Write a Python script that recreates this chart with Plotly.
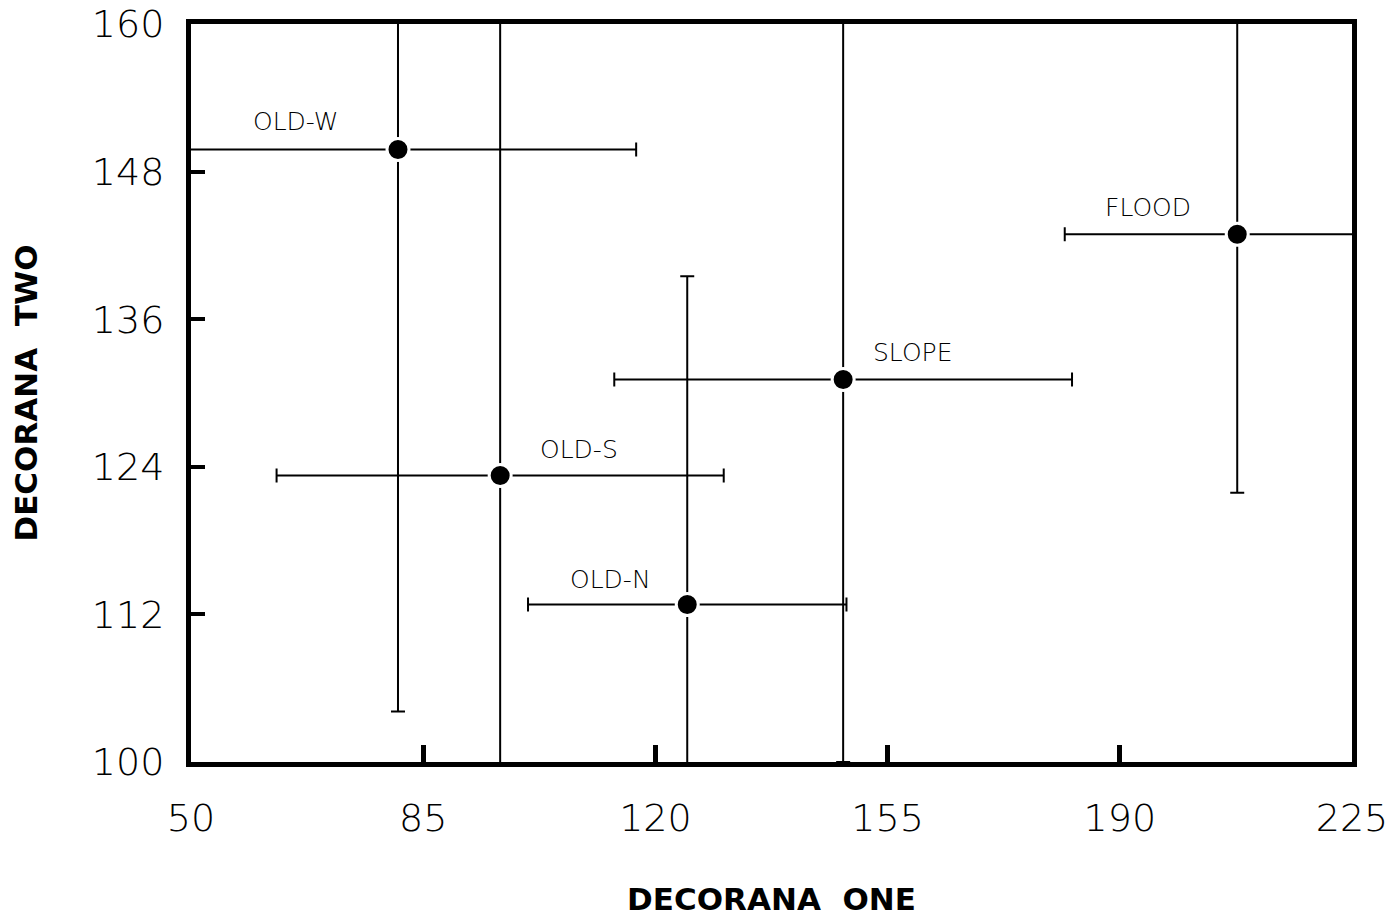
import plotly.graph_objects as go

names = ["OLD-W", "OLD-S", "OLD-N", "SLOPE", "FLOOD"]
x_vals = [81.2, 96.6, 124.8, 148.3, 207.7]
y_vals = [149.8, 123.3, 112.8, 131.1, 142.9]
x_err = [35.9, 33.7, 24.0, 34.5, 26.0]
y_err_plus = [45.7, 40.0, 26.7, 31.1, 21.0]
y_err_minus = [45.7, 40.0, 26.7, 31.1, 21.0]

label_x = [65.8, 108.5, 113.2, 158.7, 194.3]
label_y = [152.1, 125.4, 114.8, 133.3, 145.1]

x_ticks = [50, 85, 120, 155, 190, 225]
y_ticks = [100, 112, 124, 136, 148, 160]

tick_font = dict(family="DejaVu Sans", size=38, color="black", weight=200)
title_font = dict(family="DejaVu Sans", size=31, color="black", weight="bold")

fig = go.Figure()
fig.add_trace(go.Scatter(
    x=x_vals, y=y_vals, mode="markers",
    marker=dict(size=22, color="black", line=dict(color="white", width=3)),
    error_x=dict(type="data", array=x_err, color="black", thickness=2, width=7),
    error_y=dict(type="data", array=y_err_plus, arrayminus=y_err_minus,
                 color="black", thickness=2, width=7),
    showlegend=False, hoverinfo="skip",
))

for n, lx, ly in zip(names, label_x, label_y):
    fig.add_annotation(x=lx, y=ly, text=n, showarrow=False,
                       font=dict(family="DejaVu Sans", size=25, color="black", weight=200))

fig.update_layout(
    width=1396, height=917,
    margin=dict(l=191, r=44, t=24, b=155),
    paper_bgcolor="white", plot_bgcolor="white",
)
fig.update_xaxes(
    range=[50, 225], tickvals=x_ticks, ticktext=[str(v) for v in x_ticks],
    showgrid=False, zeroline=False, showline=True, linecolor="black", linewidth=5, mirror=True,
    ticks="inside", ticklen=17, tickwidth=5, tickcolor="black",
    tickfont=tick_font, ticklabelstandoff=18, automargin=False,
    title=dict(text="DECORANA\u00a0\u00a0ONE", font=title_font, standoff=62),
)
fig.update_yaxes(
    range=[100, 160], tickvals=y_ticks, ticktext=[str(v) for v in y_ticks],
    showgrid=False, zeroline=False, showline=True, linecolor="black", linewidth=5, mirror=True,
    ticks="inside", ticklen=14, tickwidth=4, tickcolor="black",
    tickfont=tick_font, ticklabelstandoff=14, automargin=False,
    title=dict(text="DECORANA\u00a0\u00a0TWO", font=title_font, standoff=47),
)

fig.write_html("out.html", config={"displayModeBar": False},
               post_script="document.body.style.margin='0';")
